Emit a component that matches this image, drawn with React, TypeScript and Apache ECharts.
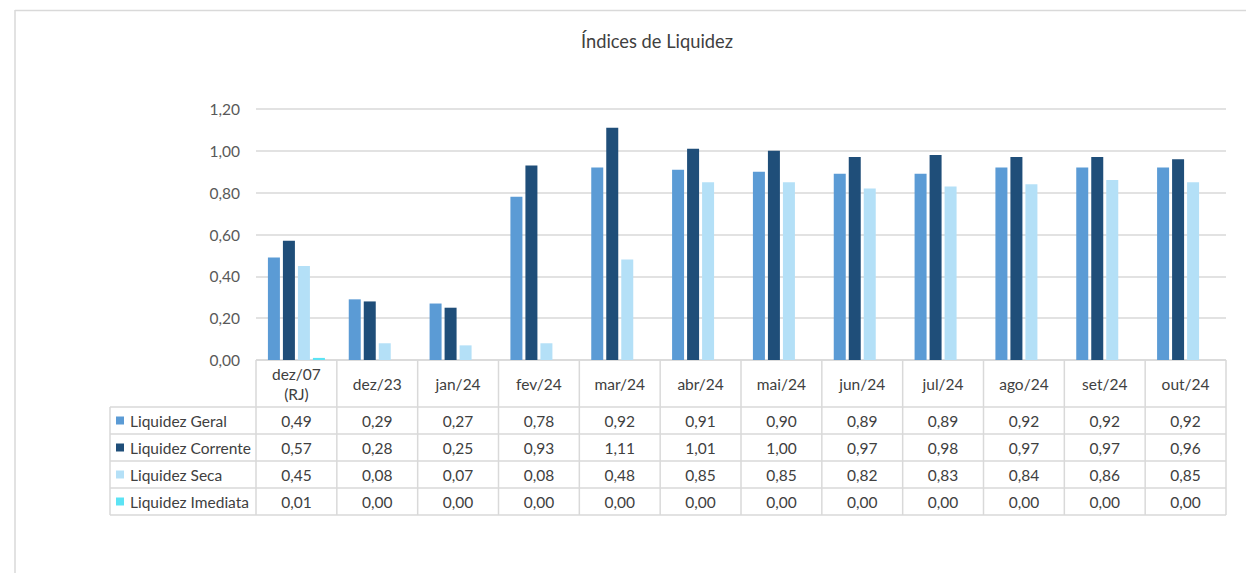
import React, { useEffect, useRef } from "react";
import * as echarts from "echarts";

const categories = ["dez/07\n(RJ)", "dez/23", "jan/24", "fev/24", "mar/24", "abr/24", "mai/24", "jun/24", "jul/24", "ago/24", "set/24", "out/24"];
const seriesNames = ["Liquidez Geral", "Liquidez Corrente", "Liquidez Seca", "Liquidez Imediata"];
const liquidezGeral = [0.49, 0.29, 0.27, 0.78, 0.92, 0.91, 0.90, 0.89, 0.89, 0.92, 0.92, 0.92];
const liquidezCorrente = [0.57, 0.28, 0.25, 0.93, 1.11, 1.01, 1.00, 0.97, 0.98, 0.97, 0.97, 0.96];
const liquidezSeca = [0.45, 0.08, 0.07, 0.08, 0.48, 0.85, 0.85, 0.82, 0.83, 0.84, 0.86, 0.85];
const liquidezImediata = [0.01, 0.00, 0.00, 0.00, 0.00, 0.00, 0.00, 0.00, 0.00, 0.00, 0.00, 0.00];
const yTicks = { min: 0, max: 1.2, interval: 0.2 };

const colors = ["#5B9BD5", "#1F4E79", "#B4E0F7", "#5CE3F4"];
const allSeries = [liquidezGeral, liquidezCorrente, liquidezSeca, liquidezImediata];

const W = 1246;
const H = 573;
const PLOT_L = 256;
const PLOT_R = 1226;
const PLOT_T = 109;
const PLOT_B = 360;
const TABLE_L = 110;
const HEADER_H = 47;
const ROW_H = 27;
const GRID_COLOR = "#D9D9D9";
const FONT = "Lato, 'Open Sans', sans-serif";

const fmt = (v: number) => v.toFixed(2).replace(".", ",");

export default function App() {
  const ref = useRef<HTMLDivElement>(null);
  useEffect(() => {
    if (!ref.current) return;
    const chart = echarts.init(ref.current, undefined, { renderer: "svg" });
    const colW = (PLOT_R - PLOT_L) / categories.length;
    const rowTop = PLOT_B + HEADER_H;
    const tableBottom = rowTop + ROW_H * seriesNames.length;
    const graphics: any[] = [];
    // outer frame
    graphics.push({ type: "line", shape: { x1: 15, y1: 10.5, x2: W, y2: 10.5 }, style: { stroke: GRID_COLOR, lineWidth: 1.5 } });
    graphics.push({ type: "line", shape: { x1: 15, y1: 10, x2: 15, y2: H }, style: { stroke: GRID_COLOR, lineWidth: 1.5 } });
    // table horizontal lines
    for (let r = 0; r <= seriesNames.length; r++) {
      const y = rowTop + r * ROW_H;
      graphics.push({ type: "line", shape: { x1: TABLE_L, y1: y, x2: PLOT_R, y2: y }, style: { stroke: GRID_COLOR, lineWidth: 1.5 } });
    }
    graphics.push({ type: "line", shape: { x1: PLOT_L, y1: PLOT_B, x2: PLOT_R, y2: PLOT_B }, style: { stroke: GRID_COLOR, lineWidth: 1.5 } });
    // vertical lines
    graphics.push({ type: "line", shape: { x1: TABLE_L, y1: rowTop, x2: TABLE_L, y2: tableBottom }, style: { stroke: GRID_COLOR, lineWidth: 1.5 } });
    for (let c = 0; c <= categories.length; c++) {
      const x = PLOT_L + c * colW;
      graphics.push({ type: "line", shape: { x1: x, y1: PLOT_B, x2: x, y2: tableBottom }, style: { stroke: GRID_COLOR, lineWidth: 1.5 } });
    }
    // header labels
    categories.forEach((cat, c) => {
      graphics.push({
        type: "text",
        x: PLOT_L + (c + 0.5) * colW,
        y: PLOT_B + HEADER_H / 2,
        style: { text: cat, fill: "#404040", font: `15.5px ${FONT}`, textAlign: "center", textVerticalAlign: "middle", lineHeight: 20 },
      });
    });
    // rows
    seriesNames.forEach((name, r) => {
      const cy = rowTop + (r + 0.5) * ROW_H;
      graphics.push({ type: "rect", shape: { x: 116, y: cy - 4, width: 8, height: 8 }, style: { fill: colors[r] } });
      graphics.push({
        type: "text", x: 130, y: cy,
        style: { text: name, fill: "#404040", font: `15.5px ${FONT}`, textAlign: "left", textVerticalAlign: "middle" },
      });
      allSeries[r].forEach((v, c) => {
        graphics.push({
          type: "text", x: PLOT_L + (c + 0.5) * colW, y: cy,
          style: { text: fmt(v), fill: "#404040", font: `15.5px ${FONT}`, textAlign: "center", textVerticalAlign: "middle" },
        });
      });
    });

    chart.setOption({
      animation: false,
      title: {
        text: "Índices de Liquidez",
        left: 576,
        top: 27,
        textStyle: { fontFamily: FONT, fontSize: 18.3, fontWeight: "normal", color: "#404040" },
      },
      grid: { left: PLOT_L, right: W - PLOT_R, top: PLOT_T, bottom: H - PLOT_B, containLabel: false },
      xAxis: {
        type: "category",
        data: categories,
        axisLine: { show: false },
        axisTick: { show: false },
        axisLabel: { show: false },
      },
      yAxis: {
        type: "value",
        min: yTicks.min,
        max: yTicks.max,
        interval: yTicks.interval,
        axisLine: { show: false },
        axisTick: { show: false },
        axisLabel: { formatter: (v: number) => fmt(v), color: "#595959", fontFamily: FONT, fontSize: 15.5, margin: 16 },
        splitLine: { lineStyle: { color: GRID_COLOR, width: 1.5 } },
      },
      series: seriesNames.map((name, i) => ({
        name,
        type: "bar",
        data: allSeries[i],
        barWidth: 12,
        barGap: "25%",
        itemStyle: { color: colors[i] },
      })),
      graphic: graphics,
    });
    return () => chart.dispose();
  }, []);
  return <div ref={ref} style={{ position: "fixed", left: 0, top: 0, width: W, height: H, background: "#fff" }} />;
}
